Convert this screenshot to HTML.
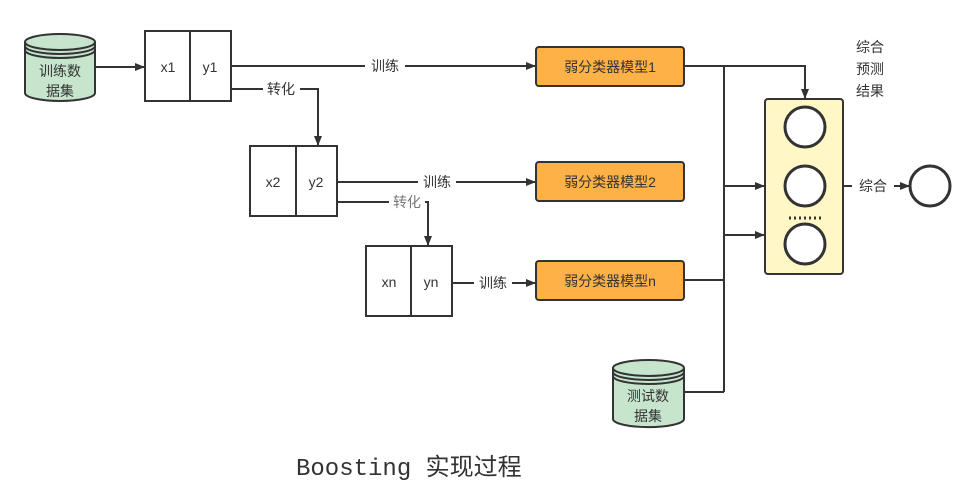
<!DOCTYPE html>
<html><head><meta charset="utf-8"><style>
html,body{margin:0;padding:0;background:#fff;}
svg{display:block;}
text{font-family:"Liberation Sans","Noto Sans CJK SC",sans-serif;fill:#333;}
</style></head><body>
<svg width="975" height="497" viewBox="0 0 975 497" xmlns="http://www.w3.org/2000/svg">
<defs>
<marker id="a" markerWidth="10" markerHeight="8" refX="9" refY="4" orient="auto" markerUnits="userSpaceOnUse">
<path d="M0,0 L10,4 L0,8 Z" fill="#333"/></marker>
</defs>
<g stroke="#333" stroke-width="2" fill="none">
<!-- cylinder 1 -->
<path d="M25,42 L25,93 A35,8 0 0 0 95,93 L95,42" fill="#c6e5cc"/>
<ellipse cx="60" cy="42" rx="35" ry="8" fill="#c6e5cc"/>
<path d="M25,46 A35,8 0 0 0 95,46 M25,50 A35,8 0 0 0 95,50"/>
<!-- cylinder 2 -->
<path d="M613,368 L613,419 A35,8 0 0 0 684,419 L684,368" fill="#c6e5cc"/>
<ellipse cx="648.5" cy="368" rx="35.5" ry="8" fill="#c6e5cc"/>
<path d="M613,372 A35.5,8 0 0 0 684,372 M613,376 A35.5,8 0 0 0 684,376"/>
<!-- boxes -->
<rect x="145" y="31" width="86" height="70" fill="#fff"/><line x1="190" y1="31" x2="190" y2="101"/>
<rect x="250" y="146" width="87" height="70" fill="#fff"/><line x1="296" y1="146" x2="296" y2="216"/>
<rect x="366" y="246" width="86" height="70" fill="#fff"/><line x1="411" y1="246" x2="411" y2="316"/>
<!-- orange -->
<rect x="536" y="47" width="148" height="39" rx="3" fill="#fdb146"/>
<rect x="536" y="162" width="148" height="39" rx="3" fill="#fdb146"/>
<rect x="536" y="261" width="148" height="39" rx="3" fill="#fdb146"/>
<!-- yellow -->
<rect x="765" y="99" width="78" height="175" rx="3" fill="#fff8c6"/>
<circle cx="805" cy="127" r="20" stroke-width="3" fill="#fff"/>
<circle cx="805" cy="186" r="20" stroke-width="3" fill="#fff"/>
<circle cx="805" cy="244" r="20" stroke-width="3" fill="#fff"/>
<circle cx="930" cy="186" r="20" stroke-width="3" fill="#fff"/>
<line x1="789" y1="218" x2="821" y2="218" stroke-width="3" stroke-dasharray="2,3"/>
<!-- connectors -->
<line x1="95" y1="67" x2="144" y2="67" marker-end="url(#a)"/>
<line x1="231" y1="66" x2="535" y2="66" marker-end="url(#a)"/>
<polyline points="231,89 318,89 318,145" marker-end="url(#a)"/>
<line x1="337" y1="182" x2="535" y2="182" marker-end="url(#a)"/>
<polyline points="337,202 428,202 428,245" marker-end="url(#a)"/>
<line x1="452" y1="283" x2="535" y2="283" marker-end="url(#a)"/>
<polyline points="684,66 805,66 805,98" marker-end="url(#a)"/>
<line x1="724" y1="66" x2="724" y2="392"/>
<line x1="684" y1="280" x2="724" y2="280"/>
<line x1="684" y1="392" x2="724" y2="392"/>
<line x1="724" y1="186" x2="764" y2="186" marker-end="url(#a)"/>
<line x1="724" y1="235" x2="764" y2="235" marker-end="url(#a)"/>
<line x1="843" y1="186" x2="909" y2="186" marker-end="url(#a)"/>
</g>
<!-- label backgrounds -->
<g fill="#fff">
<rect x="365" y="58" width="40" height="16"/>
<rect x="263" y="81" width="37" height="16"/>
<rect x="418" y="174" width="38" height="16"/>
<rect x="389" y="194" width="36" height="16"/>
<rect x="474" y="275" width="38" height="16"/>
<rect x="852" y="178" width="42" height="16"/>
</g>
<g font-size="14">
<text x="60" y="76" text-anchor="middle">训练数</text>
<text x="60" y="96" text-anchor="middle">据集</text>
<text x="648" y="401" text-anchor="middle">测试数</text>
<text x="648" y="421" text-anchor="middle">据集</text>
<text x="168" y="72" text-anchor="middle">x1</text>
<text x="210" y="72" text-anchor="middle">y1</text>
<text x="273" y="187" text-anchor="middle">x2</text>
<text x="316" y="187" text-anchor="middle">y2</text>
<text x="389" y="287" text-anchor="middle">xn</text>
<text x="431" y="287" text-anchor="middle">yn</text>
<text x="385" y="71" text-anchor="middle">训练</text>
<text x="281" y="94" text-anchor="middle">转化</text>
<text x="437" y="187" text-anchor="middle">训练</text>
<text x="407" y="207" text-anchor="middle" style="fill:#777">转化</text>
<text x="493" y="288" text-anchor="middle">训练</text>
<text x="873" y="191" text-anchor="middle">综合</text>
<text x="610" y="72" text-anchor="middle">弱分类器模型1</text>
<text x="610" y="187" text-anchor="middle">弱分类器模型2</text>
<text x="610" y="286" text-anchor="middle">弱分类器模型n</text>
<text x="856" y="52">综合</text>
<text x="856" y="74">预测</text>
<text x="856" y="96">结果</text>
</g>
<text x="296" y="475" font-size="24" style="font-family:'Liberation Mono','Noto Sans CJK SC',monospace">Boosting 实现过程</text>
</svg>
</body></html>
